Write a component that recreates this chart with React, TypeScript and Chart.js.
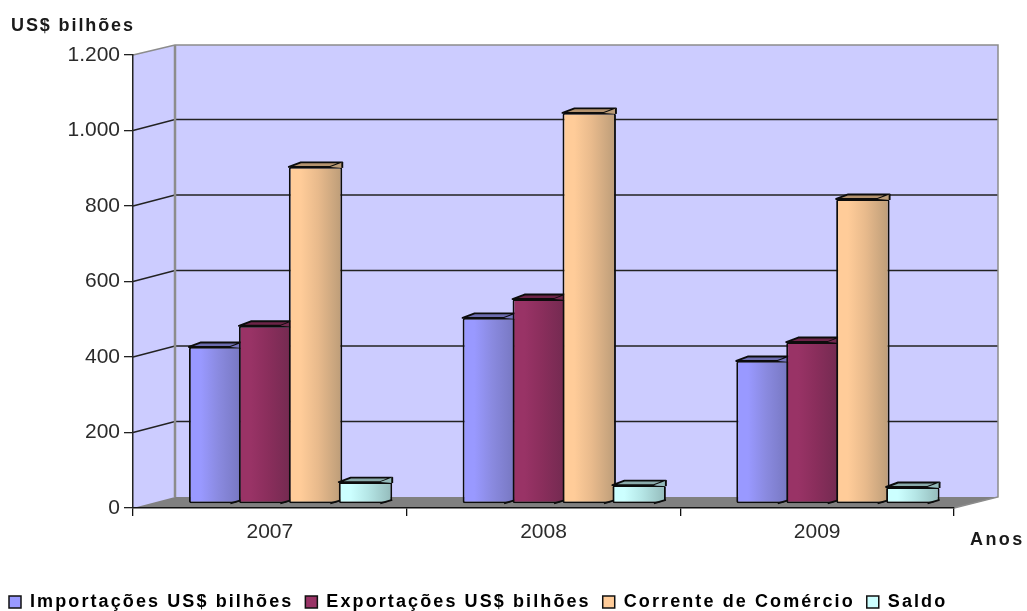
import React, { useEffect, useRef } from "react";
import { Chart, registerables } from "chart.js";

Chart.register(...registerables);

const years = ["2007", "2008", "2009"];
const seriesNames = ["Importações US$ bilhões", "Exportações US$ bilhões", "Corrente de Comércio", "Saldo"];
const importacoes = [416, 493, 379];
const exportacoes = [472, 543, 429];
const corrente = [893, 1036, 808];
const saldo = [58, 50, 45];
const seriesValues = [importacoes, exportacoes, corrente, saldo];

const lightColors = ["#9999ff", "#993366", "#ffcc99", "#ccffff"];
const midColors = ["#8a8ae0", "#8a2e5c", "#e8ba8c", "#b5e6e6"];
const darkColors = ["#7676bf", "#722a50", "#bb9c78", "#93baba"];
const capColors = ["#6c6caf", "#6d2448", "#b4936f", "#8aabab"];
const FONT = "'Liberation Sans', Arial, sans-serif";
const DEPTH_X = 42;
const DEPTH_Y = 11;
const SHIFT_X = 20.75;
const SHIFT_Y = -4;
const SIDE_W = 12;
const CAP_H = 4.5;

const scenePlugin = {
  id: "scene",
  beforeDraw(chart: any) {
    const { ctx, chartArea: a, scales } = chart;
    const y = scales.y;
    const bx0 = a.left + DEPTH_X;
    const bx1 = a.right + 44;
    const by = (v: number) => y.getPixelForValue(v) - DEPTH_Y;
    ctx.save();
    ctx.fillStyle = "#ffffff";
    ctx.fillRect(0, 0, chart.width, chart.height);
    ctx.fillStyle = "#ccccff";
    ctx.beginPath();
    ctx.moveTo(a.left, a.top);
    ctx.lineTo(bx0, a.top - DEPTH_Y + 1);
    ctx.lineTo(bx1, a.top - DEPTH_Y + 1);
    ctx.lineTo(bx1, a.bottom - DEPTH_Y);
    ctx.lineTo(a.left, a.bottom);
    ctx.closePath();
    ctx.fill();
    ctx.fillStyle = "#808080";
    ctx.beginPath();
    ctx.moveTo(a.left, a.bottom);
    ctx.lineTo(bx0, a.bottom - DEPTH_Y);
    ctx.lineTo(bx1, a.bottom - DEPTH_Y);
    ctx.lineTo(a.right, a.bottom);
    ctx.closePath();
    ctx.fill();
    ctx.strokeStyle = "#222222";
    ctx.lineWidth = 1.5;
    for (const t of y.ticks) {
      if (t.value === 0 || t.value === 1200) continue;
      ctx.beginPath();
      ctx.moveTo(a.left, y.getPixelForValue(t.value));
      ctx.lineTo(bx0, by(t.value));
      ctx.lineTo(bx1, by(t.value));
      ctx.stroke();
    }
    ctx.strokeStyle = "#8c8c8c";
    ctx.lineWidth = 1.5;
    ctx.beginPath();
    ctx.moveTo(a.left, a.top);
    ctx.lineTo(bx0, a.top - DEPTH_Y + 1);
    ctx.lineTo(bx1, a.top - DEPTH_Y + 1);
    ctx.lineTo(bx1, a.bottom - DEPTH_Y);
    ctx.lineTo(a.right, a.bottom);
    ctx.stroke();
    ctx.lineWidth = 2.5;
    ctx.beginPath();
    ctx.moveTo(bx0, a.top - DEPTH_Y + 1);
    ctx.lineTo(bx0, a.bottom - DEPTH_Y);
    ctx.stroke();
    ctx.restore();

    if (!chart.$legendPatched) {
      chart.$legendPatched = true;
      const legend = chart.legend;
      const orig = legend.draw;
      legend.draw = function (...args: any[]) {
        ctx.save();
        ctx.translate(-3, 10);
        ctx.letterSpacing = "2.1px";
        // The legend keeps one row across the whole page width.
        this.right = chart.width + 100;
        orig.apply(this, args);
        ctx.restore();
      };
    }
  },
  // Draw the series first to last, so that each bar overlaps the one on its left.
  beforeDatasetsDraw(chart: any) {
    chart.ctx.save();
    chart.ctx.translate(SHIFT_X, SHIFT_Y);
    for (const meta of chart.getSortedVisibleDatasetMetas()) chart._drawDataset(meta);
    chart.ctx.restore();
    return false;
  },
  afterDatasetDraw(chart: any, args: any) {
    const { ctx } = chart;
    const i = args.index;
    for (const el of args.meta.data) {
      const x0 = el.x - el.width / 2;
      const x1 = el.x + el.width / 2;
      const top = el.y;
      ctx.save();
      ctx.lineJoin = "round";
      ctx.strokeStyle = "#0c0c0c";
      ctx.lineWidth = 1.9;
      // cut out the lower front corner of the side face
      ctx.fillStyle = "#808080";
      ctx.beginPath();
      ctx.moveTo(x1 - SIDE_W, el.base + 1.2);
      ctx.lineTo(x1 + 1, el.base + 1.2);
      ctx.lineTo(x1 + 1, el.base - CAP_H + 1);
      ctx.closePath();
      ctx.fill();
      ctx.beginPath();
      ctx.moveTo(x1 - SIDE_W, el.base);
      ctx.lineTo(x1, el.base - CAP_H + 1);
      ctx.stroke();
      // top face
      ctx.fillStyle = capColors[i];
      ctx.beginPath();
      ctx.moveTo(x0, top);
      ctx.lineTo(x0 + SIDE_W, top - CAP_H);
      ctx.lineTo(x1, top - CAP_H);
      ctx.lineTo(x1 - SIDE_W, top);
      ctx.closePath();
      ctx.fill();
      ctx.stroke();
      ctx.fillStyle = darkColors[i];
      ctx.beginPath();
      ctx.moveTo(x1 - SIDE_W, top);
      ctx.lineTo(x1, top - CAP_H);
      ctx.lineTo(x1, top + 1);
      ctx.closePath();
      ctx.fill();
      ctx.beginPath();
      ctx.moveTo(x1, top - CAP_H);
      ctx.lineTo(x1, top + 1);
      ctx.stroke();
      ctx.restore();
    }
  },
  afterDraw(chart: any) {
    const { ctx } = chart;
    ctx.save();
    ctx.fillStyle = "#1a1a1a";
    ctx.font = `bold 18px ${FONT}`;
    ctx.textBaseline = "alphabetic";
    ctx.textAlign = "left";
    ctx.letterSpacing = "1.9px";
    ctx.fillText("US$ bilhões", 11, 31);
    ctx.letterSpacing = "2.4px";
    ctx.fillText("Anos", 970, 545);
    ctx.restore();
  },
};

function barGradient(context: any) {
  const chart = context.chart;
  const xs = chart.scales.x;
  if (!xs || context.dataIndex === undefined) return lightColors[context.datasetIndex];
  const band = xs.width / years.length;
  const slot = (band * 0.73) / seriesNames.length;
  const cx = xs.getPixelForValue(context.dataIndex) - band * 0.365 + slot * (context.datasetIndex + 0.5);
  const w = slot * 1.07;
  const g = chart.ctx.createLinearGradient(cx - w / 2, 0, cx + w / 2, 0);
  const i = context.datasetIndex;
  g.addColorStop(0, lightColors[i]);
  g.addColorStop(0.22, lightColors[i]);
  g.addColorStop(0.55, midColors[i]);
  g.addColorStop(1, darkColors[i]);
  return g;
}

export default function App() {
  const ref = useRef<HTMLCanvasElement>(null);
  useEffect(() => {
    const chart = new Chart(ref.current!, {
      type: "bar",
      plugins: [scenePlugin],
      data: {
        labels: years,
        datasets: seriesNames.map((name, i) => ({
          label: name,
          data: seriesValues[i],
          backgroundColor: barGradient,
          borderColor: "#0c0c0c",
          borderWidth: 1.9,
          borderRadius: 2,
          borderSkipped: false,
          barPercentage: 1.07,
          categoryPercentage: 0.73,
          clip: false,
        })),
      } as any,
      options: {
        animation: false,
        responsive: false,
        layout: { padding: { left: 0, right: 73, top: 55, bottom: 0 } },
        scales: {
          x: {
            grid: { drawOnChartArea: false, color: "#111111", tickLength: 8, lineWidth: 1.3 },
            border: { color: "#111111", width: 1.5 },
            ticks: { color: "#2b2b2b", font: { family: FONT, size: 21 }, padding: 4, maxRotation: 0 },
            afterFit: (s: any) => { s.height = 63; },
          },
          y: {
            min: 0,
            max: 1200,
            grid: { drawOnChartArea: false, color: "#222222", tickLength: 9, lineWidth: 1.3 },
            border: { color: "#222222", width: 1.5 },
            ticks: {
              stepSize: 200,
              color: "#2b2b2b",
              font: { family: FONT, size: 21 },
              padding: 4,
              callback: (v: any) => String(v).replace(/\B(?=(\d{3})+$)/g, "."),
            },
            afterFit: (s: any) => { s.width = 133; },
          },
        },
        plugins: {
          title: { display: false },
          tooltip: { enabled: false },
          legend: {
            display: true,
            position: "bottom",
            align: "start",
            labels: {
              boxWidth: 12,
              boxHeight: 12,
              padding: 12,
              color: "#1a1a1a",
              font: { family: FONT, size: 18, weight: "bold" },
              generateLabels: () =>
                seriesNames.map((t, i) => ({
                  text: t,
                  fillStyle: lightColors[i],
                  strokeStyle: "#111111",
                  lineWidth: 1.5,
                  datasetIndex: i,
                  hidden: false,
                })),
            },
          },
        },
      },
    } as any);
    return () => chart.destroy();
  }, []);
  return (
    <canvas
      ref={ref}
      width={1027}
      height={611}
      style={{ position: "fixed", left: 0, top: 0, width: 1027, height: 611, display: "block", filter: "blur(0.4px)" }}
    />
  );
}
